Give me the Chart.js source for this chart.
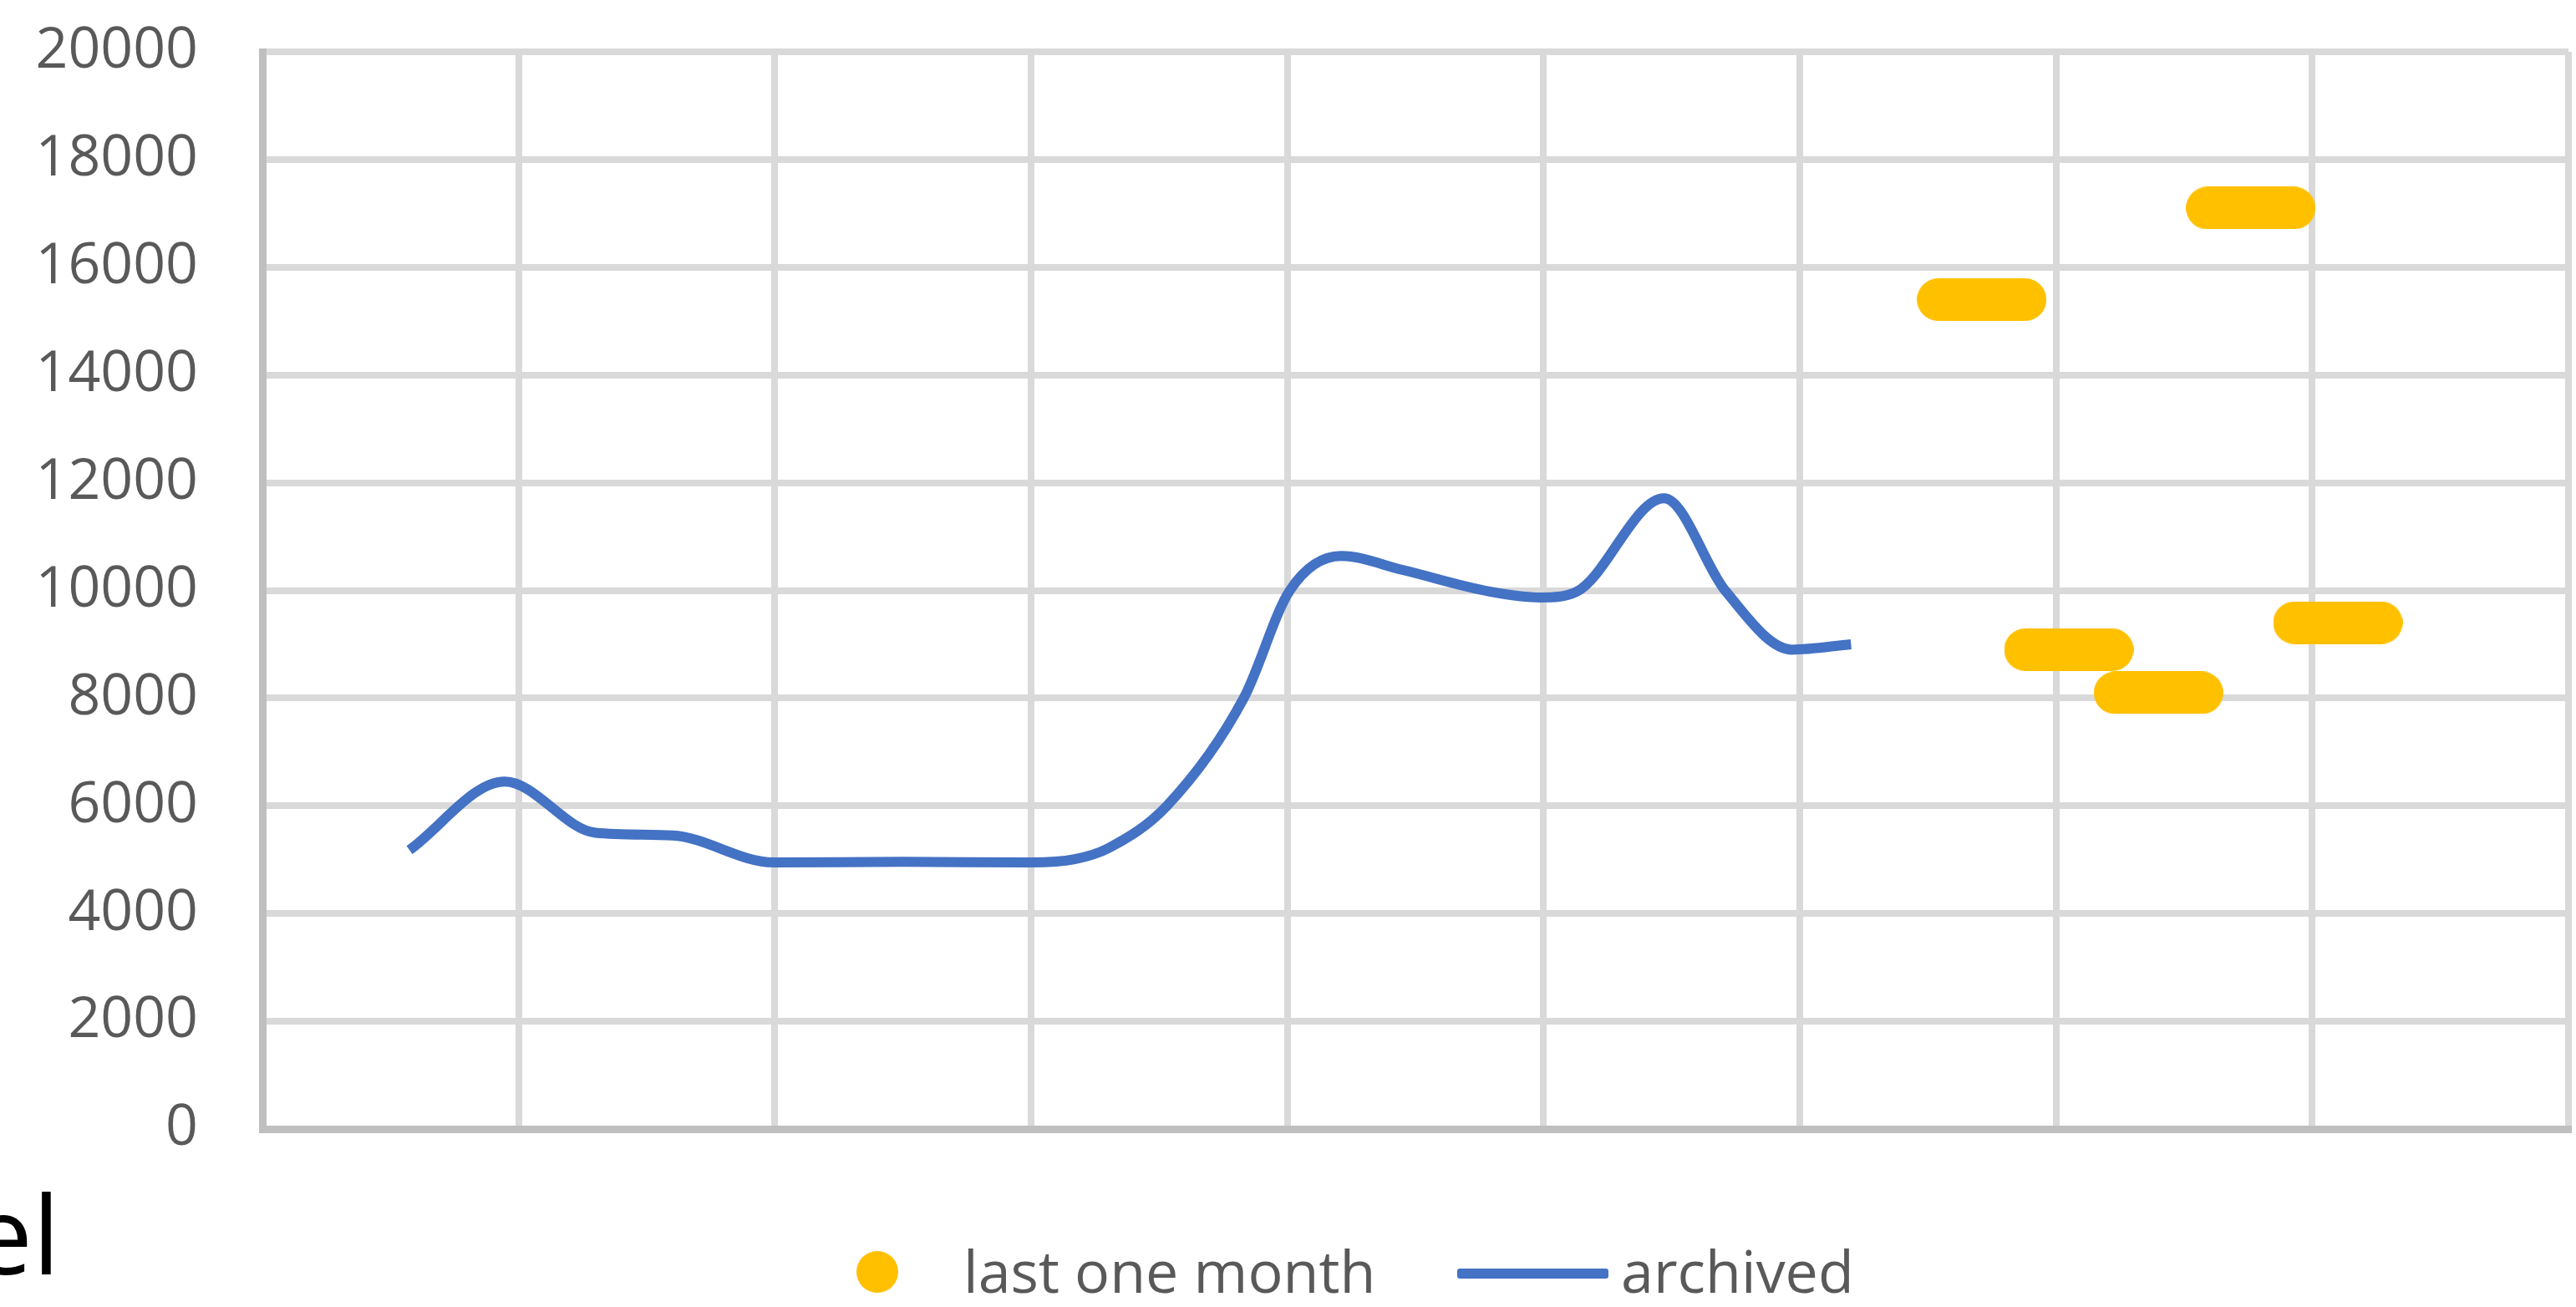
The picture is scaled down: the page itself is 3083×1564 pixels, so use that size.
<!DOCTYPE html>
<html>
<head>
<meta charset="utf-8">
<script src="https://cdn.jsdelivr.net/npm/chart.js@4.4.1/dist/chart.umd.min.js"></script>
<style>
  html, body { margin: 0; padding: 0; background: #ffffff; overflow: hidden; }
  #wrap { position: relative; width: 3083px; height: 1564px; }
  #c { position: absolute; left: 0; top: 0; }
  .txt { position: absolute; font-family: 'Open Sans', sans-serif; line-height: 1; white-space: nowrap; }
  .leg { font-size: 70px; color: #595959; }
</style>
</head>
<body>
<div id="wrap">
  <canvas id="c" width="3083" height="1564" style="width:3083px;height:1564px"></canvas>
  <div class="txt" style="left:-34px; top:1410px; font-size:130px; color:#000;">el</div>
  <div style="position:absolute; left:1025px; top:1497px; width:50px; height:50px; border-radius:50%; background:#FFC000;"></div>
  <div class="txt leg" id="leg1" style="left:1153px; top:1485px;"></div>
  <div style="position:absolute; left:1744px; top:1518px; width:181px; height:12px; border-radius:3px; background:#4472C4;"></div>
  <div class="txt leg" id="leg2" style="left:1940px; top:1485px;"></div>
</div>
<script>
// ---- data ----
const seriesNames = ['last one month', 'archived'];

// "last one month" points (x in grid-column units, y values)
const recentX = [6.71, 7.05, 7.40, 7.76, 8.10];
const recentY = [15400, 8900, 8100, 17100, 9400];

// "archived" smoothed line
const archivedX = [0.574, 0.946, 1.30, 1.60, 1.995, 2.50, 3.00, 3.17, 3.30, 3.53, 3.83, 4.01, 4.21, 4.45, 4.79, 4.99, 5.13, 5.47, 5.71, 5.97, 6.20];
const archivedY = [5180, 6450, 5500, 5450, 4950, 4960, 4950, 5010, 5210, 6000, 8000, 10000, 10640, 10380, 9980, 9870, 9980, 11710, 9990, 8900, 9000];

// axis ticks
const yTickValues = [0, 2000, 4000, 6000, 8000, 10000, 12000, 14000, 16000, 18000, 20000];
const xGridValues = [0, 1, 2, 3, 4, 5, 6, 7, 8, 9];

// ---- rendering ----
document.getElementById('leg1').textContent = seriesNames[0];
document.getElementById('leg2').textContent = seriesNames[1];

function makePill(w, h, color) {
  const c = document.createElement('canvas');
  c.width = w; c.height = h;
  const g = c.getContext('2d');
  const r = h / 2;
  g.fillStyle = color;
  g.beginPath();
  g.moveTo(r, 0);
  g.lineTo(w - r, 0);
  g.arc(w - r, r, r, -Math.PI / 2, Math.PI / 2);
  g.lineTo(r, h);
  g.arc(r, r, r, Math.PI / 2, Math.PI * 1.5);
  g.closePath();
  g.fill();
  return c;
}
const pill = makePill(155, 51, '#FFC000');

const recentData = recentX.map((x, i) => ({ x: x, y: recentY[i] }));
const archivedData = archivedX.map((x, i) => ({ x: x, y: archivedY[i] }));

function zeroPad(s) { s.paddingLeft = 0; s.paddingRight = 0; s.paddingTop = 0; s.paddingBottom = 0; }

new Chart(document.getElementById('c'), {
  type: 'scatter',
  data: {
    datasets: [
      {
        label: seriesNames[0],
        data: recentData,
        showLine: false,
        pointStyle: pill,
        pointRadius: 1,
        pointHoverRadius: 1,
        pointBorderWidth: 0,
        backgroundColor: '#FFC000',
        borderColor: '#FFC000'
      },
      {
        label: seriesNames[1],
        data: archivedData,
        showLine: true,
        borderColor: '#4472C4',
        borderWidth: 12,
        pointRadius: 0,
        pointHoverRadius: 0,
        cubicInterpolationMode: 'monotone',
        fill: false,
        clip: false
      }
    ]
  },
  options: {
    responsive: false,
    devicePixelRatio: 1,
    animation: false,
    events: [],
    layout: { autoPadding: false, padding: { left: 0, top: 62, right: 9, bottom: 0 } },
    plugins: {
      legend: { display: false },
      tooltip: { enabled: false }
    },
    scales: {
      x: {
        type: 'linear',
        min: 0,
        max: 9,
        afterFit: (s) => { s.height = 213; zeroPad(s); },
        afterBuildTicks: (s) => { s.ticks = xGridValues.map(v => ({ value: v })); },
        ticks: { display: false },
        grid: {
          drawTicks: false,
          lineWidth: 8,
          color: (ctx) => (ctx.tick && ctx.tick.value === 0) ? 'rgba(0,0,0,0)' : '#D9D9D9'
        },
        border: { display: true, color: '#BFBFBF', width: 9 }
      },
      y: {
        type: 'linear',
        min: 0,
        max: 20000,
        afterFit: (s) => { s.width = 314; zeroPad(s); },
        afterBuildTicks: (s) => { s.ticks = yTickValues.map(v => ({ value: v })); },
        ticks: {
          padding: 77,
          color: '#595959',
          font: { family: 'Open Sans', size: 68 },
          callback: (v) => String(v)
        },
        grid: {
          drawTicks: false,
          lineWidth: 8,
          color: (ctx) => (ctx.tick && ctx.tick.value === 0) ? 'rgba(0,0,0,0)' : '#D9D9D9'
        },
        border: { display: true, color: '#BFBFBF', width: 9 }
      }
    }
  }
});
</script>
</body>
</html>
